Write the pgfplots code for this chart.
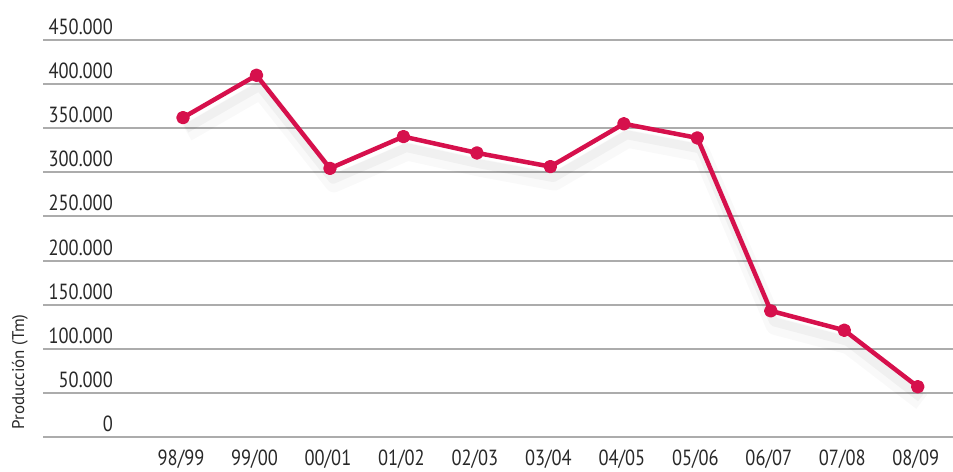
\documentclass[border=0pt]{standalone}
\usepackage{fontspec}
\setmainfont{PT Sans}[FakeStretch=0.84]
\newfontfamily\labfont{PT Sans}
\usepackage{pgfplots}
\pgfplotsset{compat=1.18}
\definecolor{linecol}{RGB}{214,16,76}
\definecolor{txt}{RGB}{40,40,40}
\definecolor{gridc}{RGB}{172,172,172}
\begin{document}
\begin{tikzpicture}
\path[use as bounding box] (0,0) rectangle (953bp,472bp);
\begin{axis}[
  at={(43bp,35bp)}, anchor=south west,
  scale only axis, width=910bp, height=397bp,
  xmin=-1.906, xmax=10.48, ymin=0, ymax=450000,
  axis line style={draw=none},
  major tick length=0pt,
  scaled y ticks=false,
  /pgf/number format/assume math mode=true,
  xtick={0,1,2,3,4,5,6,7,8,9,10},
  xticklabels={98/99,99/00,00/01,01/02,02/03,03/04,04/05,05/06,06/07,07/08,08/09},
  ytick={0,50000,100000,150000,200000,250000,300000,350000,400000,450000},
  yticklabels={0,50.000,100.000,150.000,200.000,250.000,300.000,350.000,400.000,450.000},
  ymajorgrids, grid style={gridc, line width=2bp},
  tick label style={font=\fontsize{22}{22}\selectfont, text=txt, inner sep=0pt},
  yticklabel style={anchor=south east, xshift=70bp, yshift=5bp},
  xticklabel style={anchor=north, yshift=-13bp, xshift=-2bp},
  clip=false,
]
% soft shadow
\addplot[no markers, line width=18bp, black, opacity=0.025, xshift=4bp, yshift=-15bp, line join=round] coordinates {
(0,362000) (1,410000) (2,304500) (3,340500) (4,322000) (5,306500) (6,355000) (7,339000) (8,143000) (9,121000) (10,57000)};
\addplot[no markers, line width=9bp, black, opacity=0.035, xshift=3bp, yshift=-11bp, line join=round] coordinates {
(0,362000) (1,410000) (2,304500) (3,340500) (4,322000) (5,306500) (6,355000) (7,339000) (8,143000) (9,121000) (10,57000)};
\addplot[linecol, line width=4.5bp, line join=round, mark=*, mark size=4.5bp, mark options={fill=linecol, draw=none}] coordinates {
(0,362000) (1,410000) (2,304500) (3,340500) (4,322000) (5,306500) (6,355000) (7,339000) (8,143000) (9,121000) (10,57000)};
\end{axis}
\node[rotate=90, text=txt, font=\labfont\fontsize{17}{17}\selectfont, inner sep=0pt] at (20bp,100bp) {Producción (Tm)};
\end{tikzpicture}
\end{document}
